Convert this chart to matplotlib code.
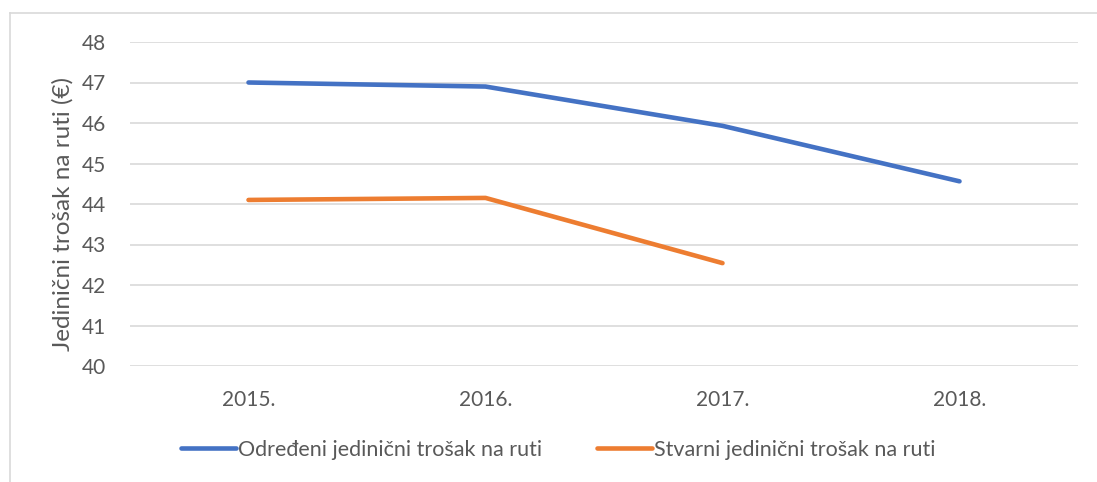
import matplotlib
matplotlib.use("Agg")
import matplotlib.pyplot as plt
from matplotlib.lines import Line2D

categories = ["2015.", "2016.", "2017.", "2018."]
odredeni = [47.0, 46.9, 45.93, 44.56]
stvarni = [44.1, 44.15, 42.54]
series_names = ["Određeni jedinični trošak na ruti", "Stvarni jedinični trošak na ruti"]
y_ticks = [40, 41, 42, 43, 44, 45, 46, 47, 48]
y_label = "Jedinični trošak na ruti (€)"

plt.rcParams['font.family'] = ['Lato', 'DejaVu Sans']

W, H = 1097, 482
fig = plt.figure(figsize=(W / 100, H / 100), dpi=100)
ax = fig.add_axes([130 / W, (H - 366) / H, (1078 - 130) / W, (366 - 42) / H])

x = list(range(len(categories)))
ax.plot(x, odredeni, color="#4472C4", lw=3.3, solid_capstyle="round", solid_joinstyle="round", label=series_names[0])
ax.plot(x[:len(stvarni)], stvarni, color="#ED7D31", lw=3.3, solid_capstyle="round", solid_joinstyle="round", label=series_names[1])

ax.set_xlim(-0.5, len(categories) - 0.5)
ax.set_ylim(40, 48)
ax.set_yticks(y_ticks)
ax.set_xticks(x)
ax.set_xticklabels(categories)
ax.yaxis.grid(True, color="#d9d9d9", lw=1.2)
ax.set_axisbelow(True)
for s in ax.spines.values():
    s.set_visible(False)
ax.tick_params(axis="both", length=0, labelsize=15, labelcolor="#595959")
ax.tick_params(axis="y", pad=17)
ax.tick_params(axis="x", pad=17)
ax.set_ylabel(y_label, fontsize=17.5, color="#595959")
ax.yaxis.set_label_coords(-0.060, 0.47)

leg = fig.legend(loc="center", bbox_to_anchor=(558 / W, (H - 450) / H), ncol=2, frameon=False,
                 fontsize=15.5, handlelength=2.55, handletextpad=0.1, columnspacing=2.55)
for t in leg.get_texts():
    t.set_color("#595959")

fig.add_artist(Line2D([10 / W, 1], [(H - 13) / H] * 2, transform=fig.transFigure, color="#d9d9d9", lw=1.2))
fig.add_artist(Line2D([10 / W] * 2, [0, (H - 13) / H], transform=fig.transFigure, color="#d9d9d9", lw=1.2))

fig.savefig("out.png", dpi=100)
